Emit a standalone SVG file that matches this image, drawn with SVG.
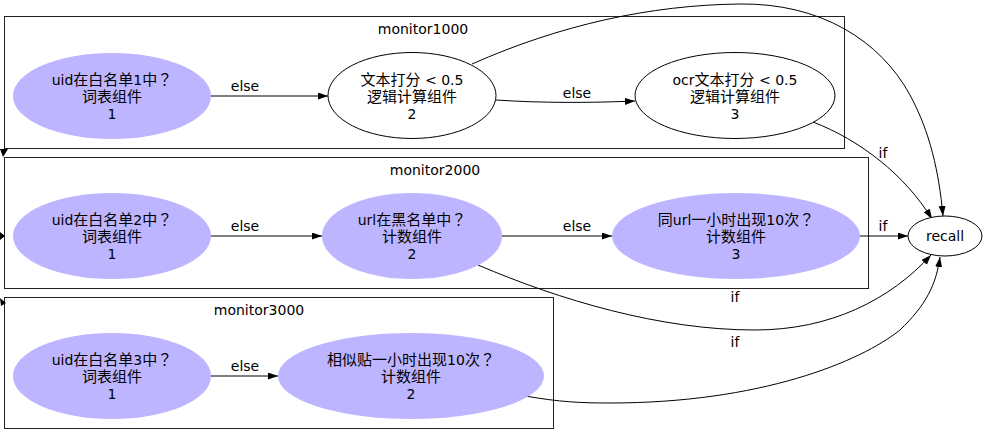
<svg xmlns="http://www.w3.org/2000/svg" width="986" height="437" viewBox="0 0 986 437">
<defs>
<marker id="arr" markerUnits="userSpaceOnUse" markerWidth="11" markerHeight="8" refX="10" refY="3.5" orient="auto">
<path d="M0,0 L10,3.5 L0,7 z" fill="#000"/>
</marker>
<style>
text{font-family:"DejaVu Sans","Noto Sans CJK SC",sans-serif;font-size:14px;fill:#000;text-anchor:middle}
.c{font-size:15px}
.q{font-family:"Noto Sans CJK TC",sans-serif;font-size:15px}
.cl{fill:none;stroke:#222;stroke-width:1}
.p{fill:#bdb5ff;stroke:none}
.w{fill:#fff;stroke:#000;stroke-width:1}
.e{fill:none;stroke:#000;stroke-width:1;marker-end:url(#arr)}
.ah{fill:#000}
</style>
</defs>
<rect width="986" height="437" fill="#fff"/>
<g id="cluster_monitor1000">
<rect class="cl" x="4.5" y="16.5" width="840" height="132"/>
<text x="423" y="34">monitor1000</text>
</g>
<g id="cluster_monitor2000">
<rect class="cl" x="4.5" y="157.5" width="864" height="131"/>
<text x="435" y="175">monitor2000</text>
</g>
<g id="cluster_monitor3000">
<rect class="cl" x="4.5" y="297.5" width="549" height="131"/>
<text x="259" y="315">monitor3000</text>
</g>
<g id="connectors">
<path class="e" d="M211,96 L328,96"/>
<text x="245" y="91">else</text>
<path class="e" d="M496,100 C540,103 590,103 635,101"/>
<text x="577" y="98">else</text>
<path class="e" d="M472,64 C560,25 650,5 740,4 C820,3 880,40 910,95 C930,132 939,172 943,216"/>
<path class="e" d="M813,122 C860,140 905,175 932,219"/>
<text x="883" y="158">if</text>
<path class="e" d="M211,236 L322,236"/>
<text x="245" y="231">else</text>
<path class="e" d="M502,236 L612,236"/>
<text x="577" y="231">else</text>
<path class="e" d="M860,236 L908,236"/>
<text x="883" y="231">if</text>
<path class="e" d="M478,265 C560,300 660,330 755,330 C830,330 890,300 931,255"/>
<text x="735" y="302">if</text>
<path class="e" d="M211,376 L278,376"/>
<text x="245" y="371">else</text>
<path class="e" d="M525,396 C560,402 580,403 610,403 C760,403 860,362 900,330 C926,305 936,285 940,257"/>
<text x="735" y="347">if</text>
<polygon class="ah" points="0,149 8,149 3,157"/>
<polygon class="ah" points="0,232 5,236 0,240"/>
<polygon class="ah" points="0,298 6,303 1,306"/>
</g>
<g id="m1000_n1">
<ellipse class="p" cx="112" cy="96" rx="99" ry="43"/>
<text x="112" y="85">uid<tspan class="c">在白名单</tspan>1<tspan class="c">中</tspan><tspan class="q">？</tspan></text>
<text x="112" y="102" class="c">词表组件</text>
<text x="112" y="119">1</text>
</g>
<g id="m1000_n2">
<ellipse class="w" cx="412" cy="95.5" rx="84" ry="43"/>
<text x="412" y="85"><tspan class="c">文本打分</tspan> &lt; 0.5</text>
<text x="412" y="102" class="c">逻辑计算组件</text>
<text x="412" y="119">2</text>
</g>
<g id="m1000_n3">
<ellipse class="w" cx="735" cy="95.5" rx="100" ry="43"/>
<text x="735" y="85">ocr<tspan class="c">文本打分</tspan> &lt; 0.5</text>
<text x="735" y="102" class="c">逻辑计算组件</text>
<text x="735" y="119">3</text>
</g>
<g id="m2000_n1">
<ellipse class="p" cx="112" cy="236" rx="99" ry="43"/>
<text x="112" y="225">uid<tspan class="c">在白名单</tspan>2<tspan class="c">中</tspan><tspan class="q">？</tspan></text>
<text x="112" y="242" class="c">词表组件</text>
<text x="112" y="259">1</text>
</g>
<g id="m2000_n2">
<ellipse class="p" cx="412" cy="236" rx="90" ry="43"/>
<text x="412" y="225">url<tspan class="c">在黑名单中</tspan><tspan class="q">？</tspan></text>
<text x="412" y="242" class="c">计数组件</text>
<text x="412" y="259">2</text>
</g>
<g id="m2000_n3">
<ellipse class="p" cx="736" cy="236" rx="124" ry="43"/>
<text x="736" y="225"><tspan class="c">同</tspan>url<tspan class="c">一小时出现</tspan>10<tspan class="c">次</tspan><tspan class="q">？</tspan></text>
<text x="736" y="242" class="c">计数组件</text>
<text x="736" y="259">3</text>
</g>
<g id="m3000_n1">
<ellipse class="p" cx="112" cy="376" rx="99" ry="43"/>
<text x="112" y="365">uid<tspan class="c">在白名单</tspan>3<tspan class="c">中</tspan><tspan class="q">？</tspan></text>
<text x="112" y="382" class="c">词表组件</text>
<text x="112" y="399">1</text>
</g>
<g id="m3000_n2">
<ellipse class="p" cx="411" cy="376" rx="133" ry="43"/>
<text x="411" y="365"><tspan class="c">相似贴一小时出现</tspan>10<tspan class="c">次</tspan><tspan class="q">？</tspan></text>
<text x="411" y="382" class="c">计数组件</text>
<text x="411" y="399">2</text>
</g>
<g id="recall">
<ellipse class="w" cx="945" cy="236" rx="37" ry="20"/>
<text x="945" y="241">recall</text>
</g>
</svg>
